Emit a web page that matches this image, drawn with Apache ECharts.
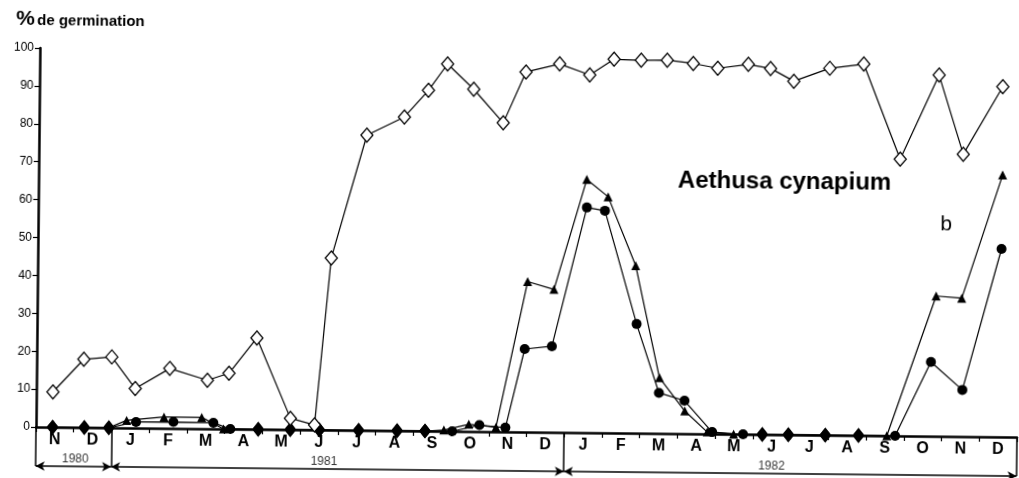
<!DOCTYPE html>
<html><head><meta charset="utf-8">
<script src="https://cdn.jsdelivr.net/npm/echarts@6/dist/echarts.min.js"></script>
<style>
html,body{margin:0;padding:0;background:#fff;overflow:hidden}
#chart{width:1019px;height:478px;transform:rotate(0.59deg);transform-origin:36px 427px}
</style>
</head><body><div id="chart"></div>
<script>
// month labels (Nov 1980 .. Dec 1982), x unit = month from 1 Nov 1980
const monthLabels = ['N','D','J','F','M','A','M','J','J','A','S','O','N','D','J','F','M','A','M','J','J','A','S','O','N','D'];
const yearLabels = ['1980','1981','1982'];
const yearStarts = [0, 2, 14];
const yearEnds = [2, 14, 26];
const yearLabelX = [1.05, 7.64, 19.5];

// open diamonds
const openX = [0.44,1.25,1.99,2.62,3.53,4.53,5.10,5.83,6.74,7.38,7.78,8.69,9.68,10.31,10.81,11.51,12.30,12.89,13.78,14.58,15.22,15.94,16.63,17.32,17.97,18.78,19.37,19.99,20.94,21.84,22.83,23.84,24.50,25.53];
const openY = [9.3,18.0,18.7,10.4,15.8,12.8,14.7,24.1,3.0,1.3,45.4,77.9,82.8,89.9,96.9,90.3,81.5,95.0,97.2,94.4,98.6,98.4,98.5,97.7,96.5,97.6,96.6,93.3,96.8,98.0,73.0,95.3,74.5,92.4];

// triangles
const triX = [2.40,3.39,4.39,4.97,10.81,11.47,12.19,12.99,13.69,14.53,15.10,15.85,16.51,17.19,17.79,18.49,22.55,23.82,24.50,25.55];
const triY = [2.0,3.0,3.0,0,0.3,1.9,1.2,39.7,37.7,66.8,62.3,44.2,14.7,6.0,0.5,0,0,37.0,36.5,69.1];

// circles
const cirX = [2.65,3.64,4.70,5.15,11.03,11.75,12.44,12.93,13.65,14.54,15.02,15.89,16.50,17.18,17.92,18.74,22.77,23.70,24.54,25.54];
const cirY = [1.6,1.7,1.6,0,0,1.7,1.1,21.9,22.7,59.4,58.6,28.8,10.7,8.7,0.5,0,0,19.6,12.3,49.6];

// dates where triangles and circles are both 0 (black diamonds)
const zeroX = [0.44,1.28,1.93,5.89,6.74,7.51,8.55,9.57,10.31,19.25,19.94,20.92,21.80];

const FONT = '"Liberation Sans", Arial, sans-serif';

function merged(xs, ys) {
  const pts = xs.map((x, i) => ({ value: [x, ys[i]] }));
  zeroX.forEach(x => pts.push({ value: [x, 0], symbol: 'diamond', symbolSize: [12, 15] }));
  pts.sort((a, b) => a.value[0] - b.value[0]);
  return pts;
}

const chart = echarts.init(document.getElementById('chart'), null, { renderer: 'canvas' });
chart.setOption({
  animation: false,
  backgroundColor: '#fff',
  graphic: [
    { type: 'text', left: 12, top: 9, style: { text: '%', font: 'bold 21px ' + FONT, fill: '#000' } },
    { type: 'text', left: 33, top: 13, style: { text: 'de germination', font: 'bold 15px ' + FONT, fill: '#000' } },
    { type: 'text', x: 782, y: 174, style: { text: 'Aethusa cynapium', font: 'bold 24px ' + FONT, fill: '#000', align: 'center', verticalAlign: 'middle' } },
    { type: 'text', x: 944, y: 215, style: { text: 'b', font: '21px ' + FONT, fill: '#000', align: 'center', verticalAlign: 'middle' } }
  ],
  grid: [
    { left: 36, right: 2, top: 48, height: 379 },
    { left: 36, right: 2, top: 427, height: 39 }
  ],
  xAxis: [
    { gridIndex: 0, type: 'value', min: 0, max: 26, interval: 1,
      axisLine: { show: true, onZero: false, lineStyle: { color: '#000', width: 2.5 } },
      axisTick: { show: true, length: 5, lineStyle: { color: '#000', width: 1.2 } },
      axisLabel: { show: false }, splitLine: { show: false } },
    { gridIndex: 0, type: 'category', data: monthLabels, position: 'bottom', boundaryGap: true,
      axisLine: { show: false }, axisTick: { show: false }, splitLine: { show: false },
      axisLabel: { interval: 0, margin: 5, color: '#000', fontSize: 16, fontWeight: 'bold', fontFamily: FONT } },
    { gridIndex: 1, type: 'value', min: 0, max: 26, show: false }
  ],
  yAxis: [
    { gridIndex: 0, type: 'value', min: 0, max: 100, interval: 10,
      axisLine: { show: true, lineStyle: { color: '#000', width: 2.5 } },
      axisTick: { show: true, length: 5, lineStyle: { color: '#000', width: 1.2 } },
      axisLabel: { margin: 6, color: '#000', fontSize: 12, fontFamily: FONT },
      splitLine: { show: false } },
    { gridIndex: 1, type: 'value', min: 0, max: 1, show: false }
  ],
  series: [
    { name: 'triangles', type: 'line', xAxisIndex: 0, yAxisIndex: 0, clip: false, z: 2,
      data: merged(triX, triY), symbol: 'triangle', symbolSize: 9,
      itemStyle: { color: '#000' }, lineStyle: { color: '#000', width: 1.2 } },
    { name: 'circles', type: 'line', xAxisIndex: 0, yAxisIndex: 0, clip: false, z: 3,
      data: merged(cirX, cirY), symbol: 'circle', symbolSize: 10,
      itemStyle: { color: '#000' }, lineStyle: { color: '#000', width: 1.2 } },
    { name: 'open', type: 'line', xAxisIndex: 0, yAxisIndex: 0, clip: false, z: 4,
      data: openX.map((x, i) => [x, openY[i]]), symbol: 'diamond', symbolSize: [12, 14],
      itemStyle: { color: '#fff', borderColor: '#000', borderWidth: 1.3 },
      lineStyle: { color: '#000', width: 1.2 } },
    { name: 'years', type: 'scatter', xAxisIndex: 2, yAxisIndex: 1, symbolSize: 0,
      data: yearLabelX.map(x => [x, 0.2]),
      label: { show: true, position: 'inside', formatter: p => yearLabels[p.dataIndex], color: '#000', fontSize: 12, fontFamily: FONT },
      markLine: { silent: true, symbol: 'none', animation: false,
        lineStyle: { color: '#000', width: 1.5, type: 'solid' }, label: { show: false },
        data: yearStarts.concat([yearEnds[yearEnds.length - 1]]).map(v => ({ xAxis: v })) } },
    { name: 'yearArrows', type: 'scatter', xAxisIndex: 2, yAxisIndex: 1, symbolSize: 0,
      data: yearStarts.map((s, i) => [(s + yearEnds[i]) / 2, 0]),
      markLine: { silent: true, symbol: ['arrow', 'arrow'], symbolSize: [7, 9], animation: false,
        lineStyle: { color: '#000', width: 1.5, type: 'solid' }, label: { show: false },
        data: yearStarts.map((s, i) => [{ coord: [s, 0] }, { coord: [yearEnds[i], 0] }]) } }
  ]
});
</script>
</body></html>
